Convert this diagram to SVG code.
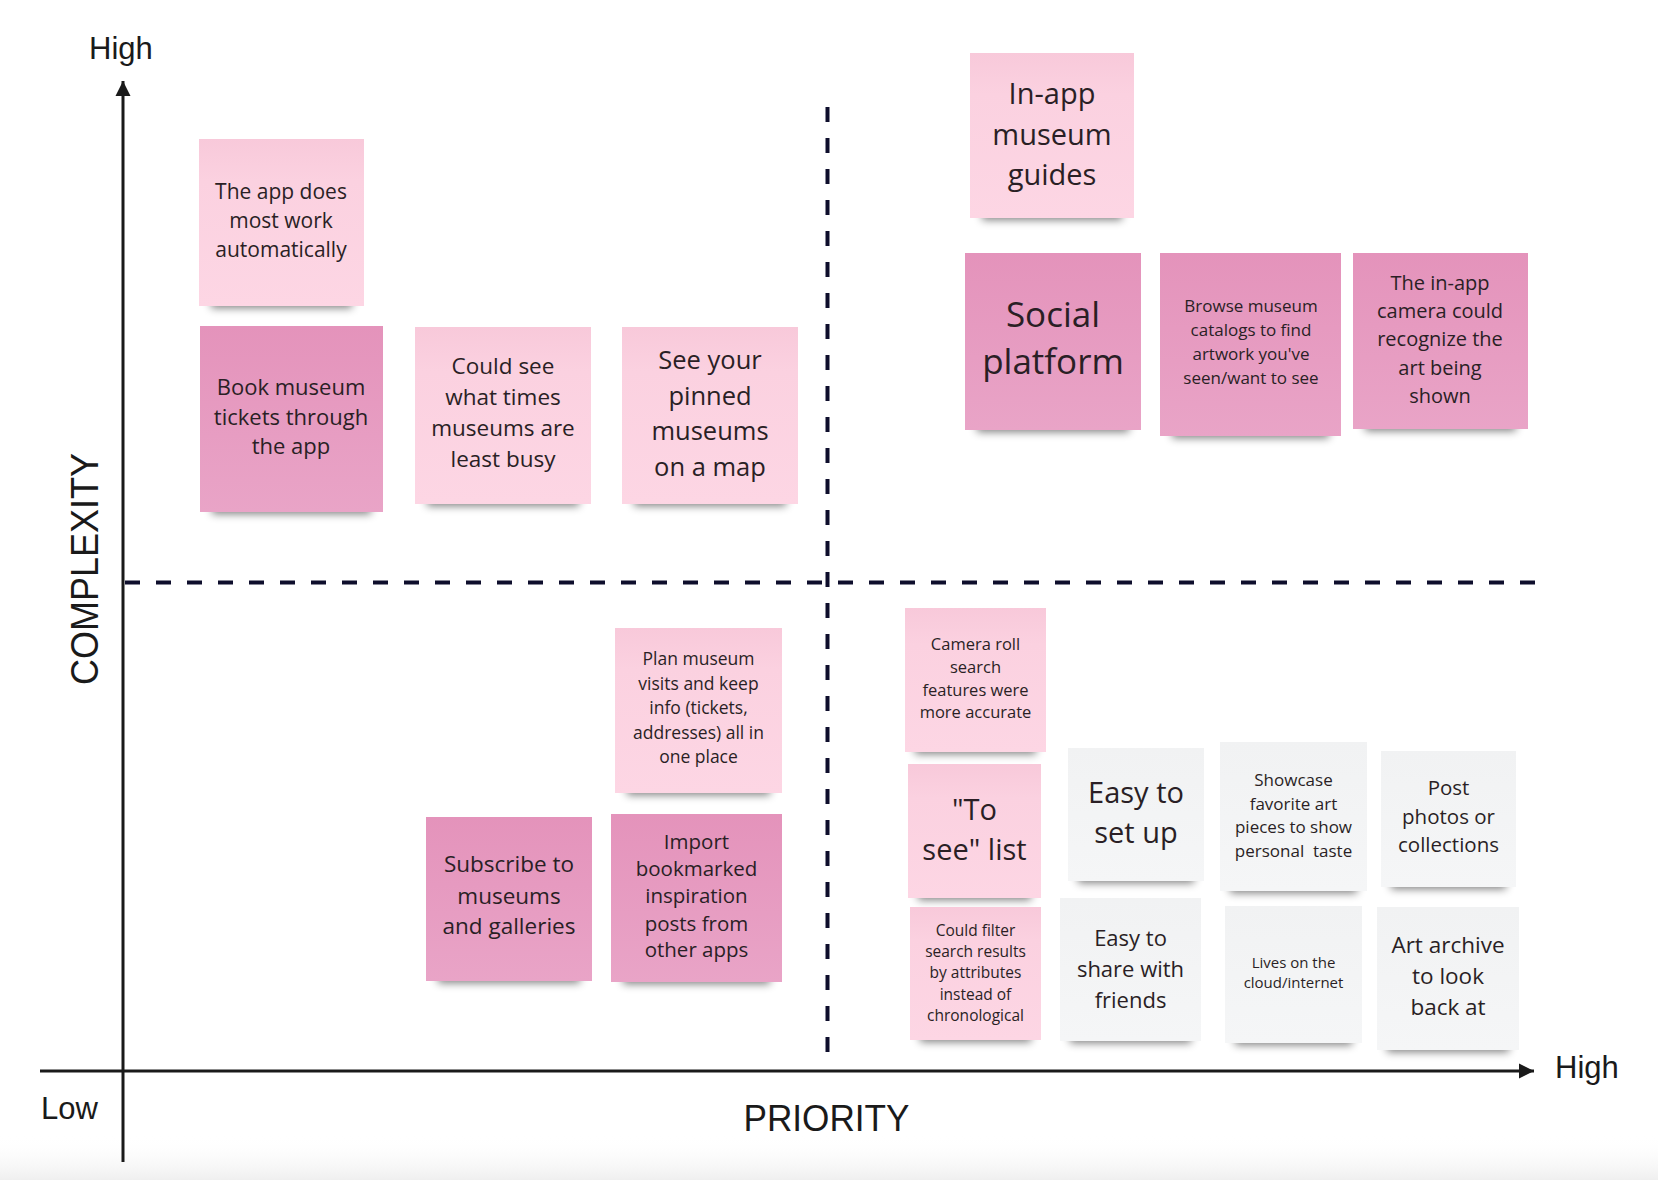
<svg xmlns="http://www.w3.org/2000/svg" width="1658" height="1180" viewBox="0 0 1658 1180">
<defs>
<linearGradient id="gLt" x1="0" y1="0" x2="0" y2="1"><stop offset="0" stop-color="#f8c9da"/><stop offset="0.25" stop-color="#fbd1e0"/><stop offset="1" stop-color="#fdd6e4"/></linearGradient>
<linearGradient id="gDk" x1="0" y1="0" x2="0" y2="1"><stop offset="0" stop-color="#e493bb"/><stop offset="1" stop-color="#e9a4c7"/></linearGradient>
<linearGradient id="gGy" x1="0" y1="0" x2="0" y2="1"><stop offset="0" stop-color="#f1f2f3"/><stop offset="1" stop-color="#f5f6f7"/></linearGradient>
<linearGradient id="gBot" x1="0" y1="0" x2="0" y2="1"><stop offset="0" stop-color="#ffffff" stop-opacity="0"/><stop offset="1" stop-color="#efefef"/></linearGradient>
<filter id="blur" x="-20%" y="-200%" width="140%" height="500%"><feGaussianBlur stdDeviation="4.5"/></filter>
<marker id="arrow" markerUnits="userSpaceOnUse" markerWidth="16" markerHeight="16" viewBox="0 0 16 16" refX="15" refY="8" orient="auto"><path d="M0,0.5 L15,8 L0,15.5 Z" fill="#1a1a1a"/></marker>
<style>
.lt{fill:url(#gLt)}
.dk{fill:url(#gDk)}
.gy{fill:url(#gGy)}
.sh{fill:#000;opacity:0.5;filter:url(#blur)}
.t{font-family:"Open Sans","DejaVu Sans",sans-serif;fill:#2a1f25;text-anchor:middle}
.lbl{font-family:"Liberation Sans",Arial,sans-serif;fill:#1a1a1a}
.axis{stroke:#1a1a1a;stroke-width:3;fill:none}
.dash{stroke:#0e0e2c;stroke-width:4;stroke-dasharray:15 16;fill:none}
</style>
</defs>
<rect width="1658" height="1180" fill="#ffffff"/>
<rect x="0" y="1135" width="1658" height="45" fill="url(#gBot)"/>

<g id="connectors">
<line class="axis" x1="123" y1="1162" x2="123" y2="81" marker-end="url(#arrow)"/>
<line class="axis" x1="40" y1="1071" x2="1534" y2="1071" marker-end="url(#arrow)"/>
<line class="dash" x1="125" y1="582.5" x2="1535" y2="582.5"/>
<line class="dash" x1="827.5" y1="107" x2="827.5" y2="1060"/>
</g>

<g id="labels">
<text class="lbl" x="89" y="59" font-size="31">High</text>
<text class="lbl" x="41" y="1118.5" font-size="31">Low</text>
<text class="lbl" x="1555" y="1078" font-size="31">High</text>
<text class="lbl" x="743.5" y="1131" font-size="36" textLength="166" lengthAdjust="spacingAndGlyphs">PRIORITY</text>
<text class="lbl" transform="translate(97.5,685) rotate(-90)" x="0" y="0" font-size="39" textLength="232" lengthAdjust="spacingAndGlyphs">COMPLEXITY</text>
</g>

<g id="s1">
<rect class="sh" x="211" y="294" width="141" height="14"/>
<rect class="lt" x="199" y="139" width="165" height="167"/>
<text class="t" font-size="21"><tspan x="281" y="199">The app does</tspan><tspan x="281" y="228">most work</tspan><tspan x="281" y="257">automatically</tspan></text>
</g>

<g id="s2">
<rect class="sh" x="212" y="500" width="159" height="14"/>
<rect class="dk" x="200" y="326" width="183" height="186"/>
<text class="t" font-size="22"><tspan x="291" y="395">Book museum</tspan><tspan x="291" y="424.5">tickets through</tspan><tspan x="291" y="453.5">the app</tspan></text>
</g>

<g id="s3">
<rect class="sh" x="427" y="492" width="152" height="14"/>
<rect class="lt" x="415" y="327" width="176" height="177"/>
<text class="t" font-size="22.5"><tspan x="503" y="373.5">Could see</tspan><tspan x="503" y="405">what times</tspan><tspan x="503" y="436">museums are</tspan><tspan x="503" y="467">least busy</tspan></text>
</g>

<g id="s4">
<rect class="sh" x="634" y="492" width="152" height="14"/>
<rect class="lt" x="622" y="327" width="176" height="177"/>
<text class="t" font-size="25.5"><tspan x="710" y="368.5">See your</tspan><tspan x="710" y="404.5">pinned</tspan><tspan x="710" y="440">museums</tspan><tspan x="710" y="476">on a map</tspan></text>
</g>

<g id="s5">
<rect class="sh" x="982" y="206" width="140" height="14"/>
<rect class="lt" x="970" y="53" width="164" height="165"/>
<text class="t" font-size="29"><tspan x="1052" y="103.5">In-app</tspan><tspan x="1052" y="144.5">museum</tspan><tspan x="1052" y="184.5">guides</tspan></text>
</g>

<g id="s6">
<rect class="sh" x="977" y="418" width="152" height="14"/>
<rect class="dk" x="965" y="253" width="176" height="177"/>
<text class="t" font-size="35"><tspan x="1053" y="327">Social</tspan><tspan x="1053" y="374">platform</tspan></text>
</g>

<g id="s7">
<rect class="sh" x="1172" y="424" width="157" height="14"/>
<rect class="dk" x="1160" y="253" width="181" height="183"/>
<text class="t" font-size="17"><tspan x="1251" y="311.5">Browse museum</tspan><tspan x="1251" y="335.5">catalogs to find</tspan><tspan x="1251" y="359.5">artwork you've</tspan><tspan x="1251" y="383.5">seen/want to see</tspan></text>
</g>

<g id="s8">
<rect class="sh" x="1365" y="417" width="151" height="14"/>
<rect class="dk" x="1353" y="253" width="175" height="176"/>
<text class="t" font-size="20"><tspan x="1440" y="289.5">The in-app</tspan><tspan x="1440" y="318">camera could</tspan><tspan x="1440" y="346">recognize the</tspan><tspan x="1440" y="374.5">art being</tspan><tspan x="1440" y="402.5">shown</tspan></text>
</g>

<g id="s9">
<rect class="sh" x="627" y="781" width="143" height="14"/>
<rect class="lt" x="615" y="628" width="167" height="165"/>
<text class="t" font-size="17.5"><tspan x="698.5" y="664.5">Plan museum</tspan><tspan x="698.5" y="689.5">visits and keep</tspan><tspan x="698.5" y="714">info (tickets,</tspan><tspan x="698.5" y="738.5">addresses) all in</tspan><tspan x="698.5" y="763">one place</tspan></text>
</g>

<g id="s10">
<rect class="sh" x="438" y="969" width="142" height="14"/>
<rect class="dk" x="426" y="817" width="166" height="164"/>
<text class="t" font-size="22.5"><tspan x="509" y="872">Subscribe to</tspan><tspan x="509" y="903.5">museums</tspan><tspan x="509" y="934">and galleries</tspan></text>
</g>

<g id="s11">
<rect class="sh" x="623" y="970" width="147" height="14"/>
<rect class="dk" x="611" y="814" width="171" height="168"/>
<text class="t" font-size="20.5"><tspan x="696.5" y="849">Import</tspan><tspan x="696.5" y="876">bookmarked</tspan><tspan x="696.5" y="903">inspiration</tspan><tspan x="696.5" y="930.5">posts from</tspan><tspan x="696.5" y="957">other apps</tspan></text>
</g>

<g id="s12">
<rect class="sh" x="915" y="740" width="121" height="14"/>
<rect class="lt" x="905" y="608" width="141" height="144"/>
<text class="t" font-size="16.5"><tspan x="975.5" y="650">Camera roll</tspan><tspan x="975.5" y="673">search</tspan><tspan x="975.5" y="695.5">features were</tspan><tspan x="975.5" y="718">more accurate</tspan></text>
</g>

<g id="s13">
<rect class="sh" x="918" y="886" width="113" height="14"/>
<rect class="lt" x="908" y="764" width="133" height="134"/>
<text class="t" font-size="29"><tspan x="974.5" y="819.5">"To</tspan><tspan x="974.5" y="860">see" list</tspan></text>
</g>

<g id="s14">
<rect class="sh" x="920" y="1028" width="111" height="14"/>
<rect class="lt" x="910" y="907" width="131" height="133"/>
<text class="t" font-size="15.5"><tspan x="975.5" y="935.5">Could filter</tspan><tspan x="975.5" y="957">search results</tspan><tspan x="975.5" y="978">by attributes</tspan><tspan x="975.5" y="999.5">instead of</tspan><tspan x="975.5" y="1021">chronological</tspan></text>
</g>

<g id="s15">
<rect class="sh" x="1078" y="869" width="116" height="14"/>
<rect class="gy" x="1068" y="748" width="136" height="133"/>
<text class="t" font-size="29"><tspan x="1136" y="803">Easy to</tspan><tspan x="1136" y="842.5">set up</tspan></text>
</g>

<g id="s16">
<rect class="sh" x="1230" y="879" width="127" height="14"/>
<rect class="gy" x="1220" y="742" width="147" height="149"/>
<text class="t" font-size="17"><tspan x="1293.5" y="785.5">Showcase</tspan><tspan x="1293.5" y="809.5">favorite art</tspan><tspan x="1293.5" y="833">pieces to show</tspan><tspan x="1293.5" y="856.5" xml:space="preserve">personal  taste</tspan></text>
</g>

<g id="s17">
<rect class="sh" x="1391" y="875" width="115" height="14"/>
<rect class="gy" x="1381" y="751" width="135" height="136"/>
<text class="t" font-size="20.5"><tspan x="1448.5" y="795">Post</tspan><tspan x="1448.5" y="823.5">photos or</tspan><tspan x="1448.5" y="852">collections</tspan></text>
</g>

<g id="s18">
<rect class="sh" x="1070" y="1029" width="121" height="14"/>
<rect class="gy" x="1060" y="898" width="141" height="143"/>
<text class="t" font-size="22"><tspan x="1130.5" y="945.5">Easy to</tspan><tspan x="1130.5" y="976.5">share with</tspan><tspan x="1130.5" y="1007.5">friends</tspan></text>
</g>

<g id="s19">
<rect class="sh" x="1235" y="1031" width="117" height="14"/>
<rect class="gy" x="1225" y="906" width="137" height="137"/>
<text class="t" font-size="15"><tspan x="1293.5" y="967.5">Lives on the</tspan><tspan x="1293.5" y="988">cloud/internet</tspan></text>
</g>

<g id="s20">
<rect class="sh" x="1387" y="1038" width="122" height="14"/>
<rect class="gy" x="1377" y="907" width="142" height="143"/>
<text class="t" font-size="22.5"><tspan x="1448" y="953">Art archive</tspan><tspan x="1448" y="984">to look</tspan><tspan x="1448" y="1014.5">back at</tspan></text>
</g>
</svg>
